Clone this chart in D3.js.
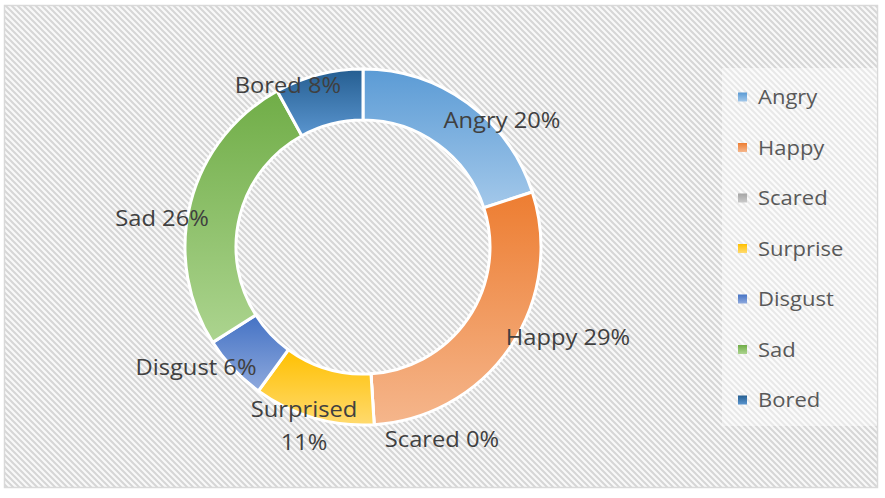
<!DOCTYPE html>
<html>
<head>
<meta charset="utf-8">
<script src="https://cdn.jsdelivr.net/npm/d3@7"></script>
<style>
  html, body { margin: 0; padding: 0; background: #ffffff; }
  svg { display: block; }
  text { font-family: "Open Sans", "Liberation Sans", sans-serif; fill: #404040; }
</style>
</head>
<body>
<svg id="chart" width="885" height="498"></svg>
<script>
// ---- data ----
const categories = ["Angry", "Happy", "Scared", "Surprise", "Disgust", "Sad", "Bored"];
const values = [20, 29, 0, 11, 6, 26, 8];
const labelNames = ["Angry", "Happy", "Scared", "Surprised", "Disgust", "Sad", "Bored"];
const baseColors = ["#5b9bd5", "#ed7d31", "#a5a5a5", "#ffc000", "#4472c4", "#70ad47", "#255e91"];
const lightColors = ["#a3c8ea", "#f5b68c", "#c9c9c9", "#ffda6e", "#8ea9dd", "#acd48f", "#5a95cf"];

// ---- layout ----
const W = 885, H = 498;
const cx = 363, cy = 247, rOuter = 178, rInner = 127;
// label anchors relative to the chart centre (dx, dy of text centre)
const labelOffsets = [[139, -126], [205, 91], [79, 193], [-59, 178], [-167, 121], [-201, -28], [-75, -161]];
const hScale = 1.13; // horizontal stretch of text in the reference

const svg = d3.select("#chart");
const defs = svg.append("defs");

const pat = defs.append("pattern")
  .attr("id", "hatch").attr("patternUnits", "userSpaceOnUse")
  .attr("width", 6).attr("height", 6);
pat.append("rect").attr("width", 6).attr("height", 6).attr("fill", "#f9f9f9");
pat.append("path")
  .attr("d", "M-1,-1 L7,7 M-1,5 L1,7 M5,-1 L7,1")
  .attr("stroke", "#d6d6d6").attr("stroke-width", 2);

categories.forEach((c, i) => {
  const g = defs.append("linearGradient")
    .attr("id", "grad" + i).attr("x1", 0).attr("y1", 0).attr("x2", 0).attr("y2", 1);
  g.append("stop").attr("offset", "0%").attr("stop-color", baseColors[i]);
  g.append("stop").attr("offset", "100%").attr("stop-color", lightColors[i]);
});

// background + frame
svg.append("rect").attr("x", 0).attr("y", 0).attr("width", W).attr("height", H).attr("fill", "#ffffff");
svg.append("rect").attr("x", 4.5).attr("y", 5.5).attr("width", 873).attr("height", 482)
  .attr("fill", "url(#hatch)").attr("stroke", "#d9d9d9").attr("stroke-width", 1.5);

// legend box
svg.append("rect").attr("x", 722).attr("y", 68).attr("width", 155).attr("height", 358)
  .attr("fill", "#ffffff").attr("opacity", 0.45);

// donut
const data = categories.map((c, i) => ({ cat: c, value: values[i], i }));
const pie = d3.pie().value(d => d.value).sort(null);
const arc = d3.arc().innerRadius(rInner).outerRadius(rOuter);
const arcs = pie(data);

const gPie = svg.append("g").attr("transform", `translate(${cx},${cy})`);
gPie.selectAll("path.slice").data(arcs).enter().append("path")
  .attr("class", "slice")
  .attr("d", arc)
  .attr("fill", d => `url(#grad${d.data.i})`)
  .attr("stroke", "#ffffff").attr("stroke-width", 3).attr("stroke-linejoin", "miter");

// data labels
const total = d3.sum(values);
const gLab = gPie.append("g");
arcs.forEach((d, k) => {
  const i = d.data.i;
  const pct = Math.round(d.data.value / total * 100) + "%";
  const [dx, dy] = labelOffsets[i];
  const t = gLab.append("text")
    .attr("transform", `translate(${dx},${dy}) scale(${hScale},1)`)
    .attr("text-anchor", "middle")
    .attr("font-size", 21);
  if (labelNames[i] === "Surprised") {
    t.append("tspan").attr("x", 0).attr("y", -8).text(labelNames[i]);
    t.append("tspan").attr("x", 0).attr("y", 25).text(pct);
  } else {
    t.attr("dy", 7).text(labelNames[i] + " " + pct);
  }
});

// legend
const legendY = d3.scalePoint().domain(categories).range([97, 400]);
const gLeg = svg.append("g");
categories.forEach((c, i) => {
  const y = legendY(c);
  gLeg.append("rect").attr("x", 738).attr("y", y - 4.5).attr("width", 9).attr("height", 9)
    .attr("fill", `url(#grad${i})`);
  gLeg.append("text")
    .attr("transform", `translate(758,${y + 7}) scale(1.1,1)`)
    .attr("font-size", 20)
    .style("fill", "#595959")
    .text(c);
});
</script>
</body>
</html>
